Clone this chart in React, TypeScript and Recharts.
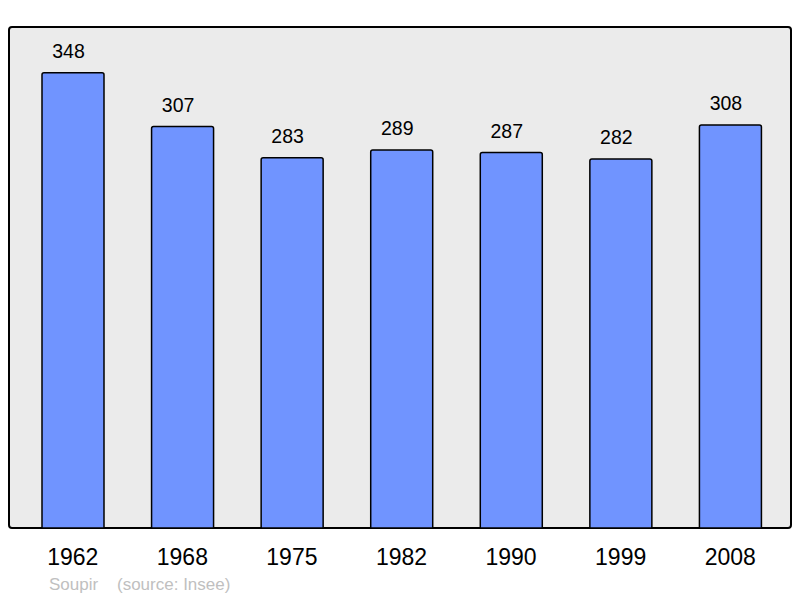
import React from 'react';
import { BarChart, Bar, XAxis, YAxis, LabelList } from 'recharts';

const years = ['1962', '1968', '1975', '1982', '1990', '1999', '2008'];
const population = [348, 307, 283, 289, 287, 282, 308];
const yMax = 383;

const data = years.map((y, i) => ({ year: y, value: population[i] }));

const FONT = '"Liberation Sans", Arial, sans-serif';

const Tick = (props: any) => {
  const { x, payload } = props;
  return (
    <text x={x} y={565} textAnchor="middle" fontSize={23} fontFamily={FONT} fill="#000">
      {payload.value}
    </text>
  );
};

const ValueLabel = (props: any) => {
  const { x, y, width, value } = props;
  return (
    <text x={x + width / 2 - 4.5} y={y - 14.7} textAnchor="middle" fontSize={19.5} fontFamily={FONT} fill="#000">
      {value}
    </text>
  );
};

export default function App() {
  return (
    <div style={{ position: 'absolute', left: 0, top: 0, width: 800, height: 598, background: '#fff' }}>
      <div
        style={{
          position: 'absolute',
          left: 8,
          top: 26,
          width: 784,
          height: 503,
          boxSizing: 'border-box',
          border: '2px solid #000',
          borderRadius: 4,
          background: '#ebebeb',
        }}
      />
      <div style={{ position: 'absolute', left: 0, top: 0 }}>
        <BarChart
          width={800}
          height={598}
          data={data}
          margin={{ top: 27, right: 9, bottom: 40, left: 9 }}
        >
          <XAxis
            dataKey="year"
            axisLine={false}
            tickLine={false}
            padding={{ left: 9, right: 6 }}
            tick={<Tick />}
            interval={0}
          />
          <YAxis hide domain={[0, yMax]} />
          <Bar
            dataKey="value"
            barSize={62}
            fill="#7094ff"
            stroke="#000"
            strokeWidth={1.5}
            radius={[2, 2, 0, 0]}
            isAnimationActive={false}
          >
            <LabelList dataKey="value" content={<ValueLabel />} />
          </Bar>
        </BarChart>
      </div>
      <svg width={800} height={598} style={{ position: 'absolute', left: 0, top: 0, pointerEvents: 'none' }}>
        <text x={49} y={590} fontSize={17} fontFamily={FONT} fill="#c0c0c0">Soupir</text>
        <text x={117} y={590} fontSize={17} fontFamily={FONT} fill="#c0c0c0">(source: Insee)</text>
      </svg>
    </div>
  );
}
